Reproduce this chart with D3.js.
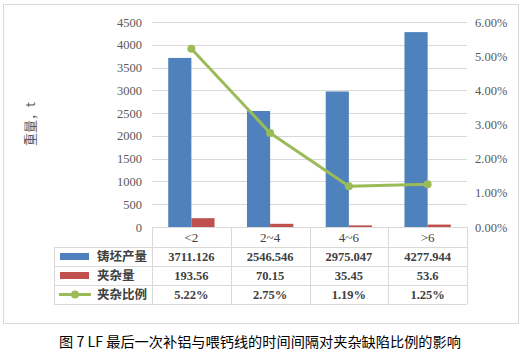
<!DOCTYPE html>
<html><head><meta charset="utf-8">
<script src="https://cdn.jsdelivr.net/npm/d3@7/dist/d3.min.js"></script>
<style>body{margin:0;background:#fff}svg{display:block}</style>
</head><body>
<svg id="c" width="524" height="353"></svg>
<script>
const categories = ["<2", "2~4", "4~6", ">6"];
const production = [3711.126, 2546.546, 2975.047, 4277.944];
const inclusion = [193.56, 70.15, 35.45, 53.6];
const ratio = [5.22, 2.75, 1.19, 1.25];
const leftTicks = [0, 500, 1000, 1500, 2000, 2500, 3000, 3500, 4000, 4500];
const rightTicks = [0, 1, 2, 3, 4, 5, 6];
const seriesNames = ["铸坯产量", "夹杂量", "夹杂比例"];
const productionLabels = ["3711.126", "2546.546", "2975.047", "4277.944"];
const inclusionLabels = ["193.56", "70.15", "35.45", "53.6"];
const ratioLabels = ["5.22%", "2.75%", "1.19%", "1.25%"];
const yTitle = "重量，t";
const caption = "图 7 LF 最后一次补铝与喂钙线的时间间隔对夹杂缺陷比例的影响";

const svg = d3.select("#c");
const grid = "#D9D9D9", blue = "#4F81BD", red = "#C0504D", green = "#9BBB59";
const serif = "'Liberation Serif','Times New Roman',serif";
const cjk = "'Noto Sans CJK SC',sans-serif";

// outer frame
svg.append("rect").attr("x", 3.5).attr("y", 4.5).attr("width", 515).attr("height", 319)
  .attr("fill", "none").attr("stroke", grid);

const L = 152, R = 467, T = 22, B = 227;
const x = d3.scaleBand().domain(categories).range([L, R]);
const yL = d3.scaleLinear().domain([0, 4500]).range([B, T]);
const yR = d3.scaleLinear().domain([0, 6]).range([B, T]);

// gridlines
svg.append("g").selectAll("line").data(leftTicks.filter(d => d > 0)).join("line")
  .attr("x1", L).attr("x2", R).attr("y1", d => Math.round(yL(d)) + 0.5).attr("y2", d => Math.round(yL(d)) + 0.5)
  .attr("stroke", grid);

// left axis labels
const gl = svg.append("g").attr("transform", `translate(${L},0)`)
  .call(d3.axisLeft(yL).tickValues(leftTicks).tickFormat(d3.format("d")).tickSize(0).tickPadding(10));
gl.select(".domain").remove();
gl.selectAll("text").attr("font-family", serif).attr("font-size", 12.5).attr("fill", "#595959");

// right axis labels
const gr = svg.append("g").attr("transform", `translate(${R},0)`)
  .call(d3.axisRight(yR).tickValues(rightTicks).tickSize(0).tickPadding(8).tickFormat(d => d.toFixed(2) + "%"));
gr.select(".domain").remove();
gr.selectAll("text").attr("font-family", serif).attr("font-size", 12.5).attr("fill", "#595959");

// bars
const sub = d3.scaleBand().domain([0, 1]).range([0, x.bandwidth()]).paddingOuter(0.7).paddingInner(0);
svg.append("g").selectAll("rect").data(production).join("rect")
  .attr("x", (d, i) => x(categories[i]) + sub(0)).attr("width", sub.bandwidth())
  .attr("y", d => yL(d)).attr("height", d => B - yL(d)).attr("fill", blue);
svg.append("g").selectAll("rect").data(inclusion).join("rect")
  .attr("x", (d, i) => x(categories[i]) + sub(1)).attr("width", sub.bandwidth())
  .attr("y", d => yL(d)).attr("height", d => B - yL(d)).attr("fill", red);

// line
const cx = (d, i) => x(categories[i]) + x.bandwidth() / 2;
svg.append("path").datum(ratio)
  .attr("d", d3.line().x(cx).y(d => yR(d)))
  .attr("fill", "none").attr("stroke", green).attr("stroke-width", 3).attr("stroke-linejoin", "round");
svg.append("g").selectAll("circle").data(ratio).join("circle")
  .attr("cx", cx).attr("cy", d => yR(d)).attr("r", 4).attr("fill", green);

// y title
svg.append("text").attr("transform", "translate(35,124) rotate(-90)")
  .attr("text-anchor", "middle").attr("font-family", cjk).attr("font-size", 13)
  .attr("fill", "#595959").text(yTitle);

// data table
const rowsY = [227, 247, 266, 285, 304];
const LL = 54;
const tg = svg.append("g").attr("stroke", grid).attr("shape-rendering", "crispEdges");
tg.append("line").attr("x1", L).attr("x2", R).attr("y1", rowsY[0] + 0.5).attr("y2", rowsY[0] + 0.5);
rowsY.slice(1).forEach(y => tg.append("line").attr("x1", LL).attr("x2", R).attr("y1", y + 0.5).attr("y2", y + 0.5));
tg.append("line").attr("x1", LL + 0.5).attr("x2", LL + 0.5).attr("y1", rowsY[1]).attr("y2", rowsY[4]);
x.domain().concat([null]).forEach((c, i) => {
  const xx = c === null ? R : x(c);
  tg.append("line").attr("x1", Math.round(xx) + 0.5).attr("x2", Math.round(xx) + 0.5).attr("y1", rowsY[0]).attr("y2", rowsY[4]);
});

// category row
svg.append("g").selectAll("text").data(categories).join("text")
  .attr("x", (d, i) => cx(d, i)).attr("y", (rowsY[0] + rowsY[1]) / 2 + 4.5)
  .attr("text-anchor", "middle").attr("font-family", serif).attr("font-size", 13).attr("fill", "#404040").text(d => d);

const rowData = [productionLabels, inclusionLabels, ratioLabels];
rowData.forEach((arr, r) => {
  svg.append("g").selectAll("text").data(arr).join("text")
    .attr("x", (d, i) => cx(d, i)).attr("y", (rowsY[r + 1] + rowsY[r + 2]) / 2 + 4.5)
    .attr("text-anchor", "middle").attr("font-family", serif).attr("font-weight", "bold")
    .attr("font-size", 12.5).attr("fill", "#404040").text(d => d);
});

// legend column
const colors = [blue, red, green];
seriesNames.forEach((n, r) => {
  const cy = (rowsY[r + 1] + rowsY[r + 2]) / 2;
  if (r < 2) {
    svg.append("rect").attr("x", 60).attr("y", cy - 3.5).attr("width", 29).attr("height", 7).attr("fill", colors[r]);
  } else {
    svg.append("line").attr("x1", 59).attr("x2", 91).attr("y1", cy).attr("y2", cy).attr("stroke", green).attr("stroke-width", 3);
    svg.append("circle").attr("cx", 75).attr("cy", cy).attr("r", 4).attr("fill", green);
  }
  svg.append("text").attr("x", 97).attr("y", cy + 4.5).attr("font-family", cjk).attr("font-weight", "bold")
    .attr("font-size", 12.5).attr("fill", "#404040").text(n);
});

// caption
svg.append("text").attr("x", 260).attr("y", 347).attr("text-anchor", "middle")
  .attr("font-family", cjk).attr("font-size", 14.2).attr("fill", "#000").text(caption);
</script>
</body></html>
